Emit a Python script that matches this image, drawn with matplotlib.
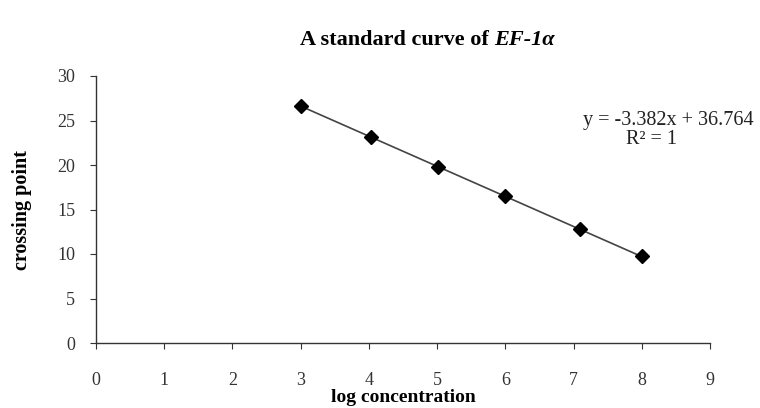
import matplotlib
matplotlib.use("Agg")
import matplotlib.pyplot as plt
import numpy as np

# data
log_conc = [3.0, 4.03, 5.02, 6.0, 7.1, 8.0]
crossing_point = [26.6, 23.1, 19.8, 16.5, 12.8, 9.8]
slope = -3.382
intercept = 36.764
x_ticks = list(range(0, 10))
y_ticks = list(range(0, 31, 5))

plt.rcParams['font.family'] = ['Liberation Serif', 'DejaVu Serif']

fig = plt.figure(figsize=(7.6, 4.08), dpi=100)
ax = fig.add_axes([96/760, 1-343/408, (710-96)/760, (343-76)/408])

xs = np.array([min(log_conc), max(log_conc)])
ax.plot(xs, slope*xs + intercept, color='#444444', lw=1.2, zorder=2)
ax.plot(log_conc, crossing_point, linestyle='none', marker='D', markersize=7,
        color='black', zorder=3)

ax.set_xlim(0, 9)
ax.set_ylim(0, 30)
ax.set_xticks(x_ticks)
ax.set_yticks(y_ticks)
for s in ['top', 'right']:
    ax.spines[s].set_visible(False)
for s in ['left', 'bottom']:
    ax.spines[s].set_color('#333333')
    ax.spines[s].set_linewidth(1.0)
ax.tick_params(direction='out', length=4, width=0.8, color='#333333',
               labelsize=13, labelcolor='#333333')
ax.tick_params(axis='x', pad=17)
ax.tick_params(axis='y', pad=11)

ax.set_xlabel('log concentration', fontsize=14, fontweight='bold', labelpad=0)
ax.set_ylabel('crossing point', fontsize=14.5, fontweight='bold', labelpad=18)

ax.text(583/760, 1-120/408, 'y = -3.382x + 36.764', transform=fig.transFigure,
        ha='left', va='center', fontsize=14.5, color='#222222')
ax.text(652/760, 1-139/408, 'R² = 1', transform=fig.transFigure,
        ha='center', va='center', fontsize=14.5, color='#222222')

# title in two parts
t1 = fig.text(0.5, 1-40/408, 'A standard curve of ', fontsize=16, fontweight='bold',
              ha='left', va='center')
t2 = fig.text(0.5, 1-40/408, 'EF-1α', fontsize=16, fontweight='bold', style='italic',
              ha='left', va='center')
fig.canvas.draw()
r = fig.canvas.get_renderer()
w1 = t1.get_window_extent(r).width
w2 = t2.get_window_extent(r).width
total = w1 + w2
cx = 427
left = cx - total/2
t1.set_x(left/760)
t2.set_x((left + w1)/760)

fig.savefig('out.png', dpi=100)
